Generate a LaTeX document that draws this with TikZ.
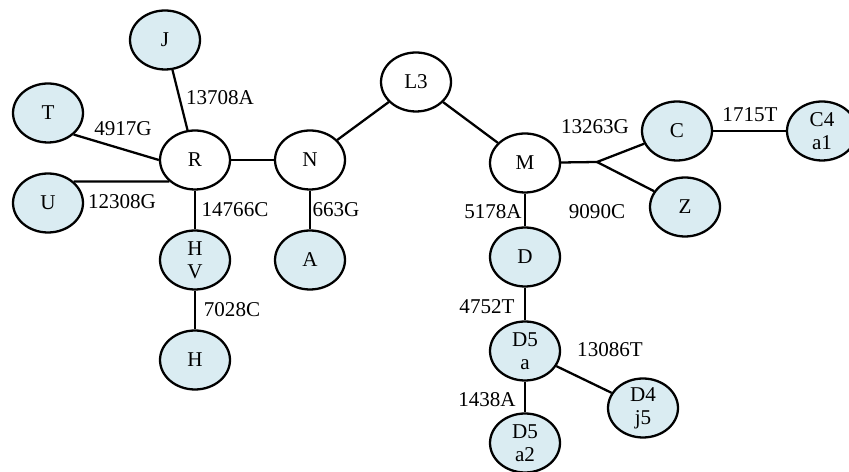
\documentclass[tikz,border=0pt]{standalone}
\usepackage{fontspec}
\setmainfont{Liberation Serif}
\usetikzlibrary{shapes.geometric}
\definecolor{hapblue}{RGB}{218,236,242}
\tikzset{
  hap/.style={ellipse, draw, line width=1.3pt, fill=white, minimum width=1.4cm,
    minimum height=1.18cm, inner sep=0pt, align=center,
    font=\fontsize{12}{13}\selectfont},
  leaf/.style={hap, fill=hapblue},
  link/.style={line width=1.3pt},
  mut/.style={font=\fontsize{12}{13}\selectfont, inner sep=1pt}
}
\begin{document}
\begin{tikzpicture}[x=0.02cm, y=-0.02cm]
    \useasboundingbox (0,0) rectangle (849,472);
    % haplogroups
    \node [leaf] (J)    at (165,40)  {J};
    \node [leaf] (T)    at (48,113)  {T};
    \node [leaf] (U)    at (48,203)  {U};
    \node [hap]  (R)    at (195,160) {R};
    \node [hap]  (N)    at (310,160) {N};
    \node [leaf] (HV)   at (195,260) {H\\V};
    \node [leaf] (H)    at (195,360) {H};
    \node [leaf] (A)    at (310,260) {A};
    \node [hap]  (L3)   at (416,82)  {L3};
    \node [hap]  (M)    at (525,163) {M};
    \coordinate  (Fork) at (597,162);
    \node [leaf] (C)    at (677,131) {C};
    \node [leaf] (C4a1) at (822,131) {C4\\a1};
    \node [leaf] (Z)    at (685,207) {Z};
    \node [leaf] (D)    at (525,257) {D};
    \node [leaf] (D5a)  at (525,351) {D5\\a};
    \node [leaf] (D4j5) at (643,408) {D4\\j5};
    \node [leaf] (D5a2) at (525,443) {D5\\a2};
    % branches
    \draw [link] (J) -- (R);
    \draw [link] (T.-40) -- (R.west);
    \draw [link] (U.40) -- (R.220);
    \draw [link] (R) -- (N);
    \draw [link] (R) -- (HV);
    \draw [link] (HV) -- (H);
    \draw [link] (N) -- (A);
    \draw [link] (N) -- (L3);
    \draw [link] (L3) -- (M);
    \draw [link] (M) -- (Fork);
    \draw [link] (Fork) -- (C);
    \draw [link] (Fork) -- (Z);
    \draw [link] (C) -- (C4a1);
    \draw [link] (M) -- (D);
    \draw [link] (D) -- (D5a);
    \draw [link] (D5a) -- (D5a2);
    \draw [link] (D5a) -- (D4j5);
    % mutations
    \node [mut] (m13708A) at (220,98)  {13708A};
    \node [mut] (m4917G)  at (123,129) {4917G};
    \node [mut] (m12308G) at (122,202) {12308G};
    \node [mut] (m14766C) at (235,210) {14766C};
    \node [mut] (m663G)   at (336,210) {663G};
    \node [mut] (m7028C)  at (232,310) {7028C};
    \node [mut] (m13263G) at (595,127) {13263G};
    \node [mut] (m1715T)  at (750,115) {1715T};
    \node [mut] (m9090C)  at (597,212) {9090C};
    \node [mut] (m5178A)  at (493,212) {5178A};
    \node [mut] (m4752T)  at (487,307) {4752T};
    \node [mut] (m13086T) at (610,350) {13086T};
    \node [mut] (m1438A)  at (487,400) {1438A};
  \end{tikzpicture}
\end{document}
